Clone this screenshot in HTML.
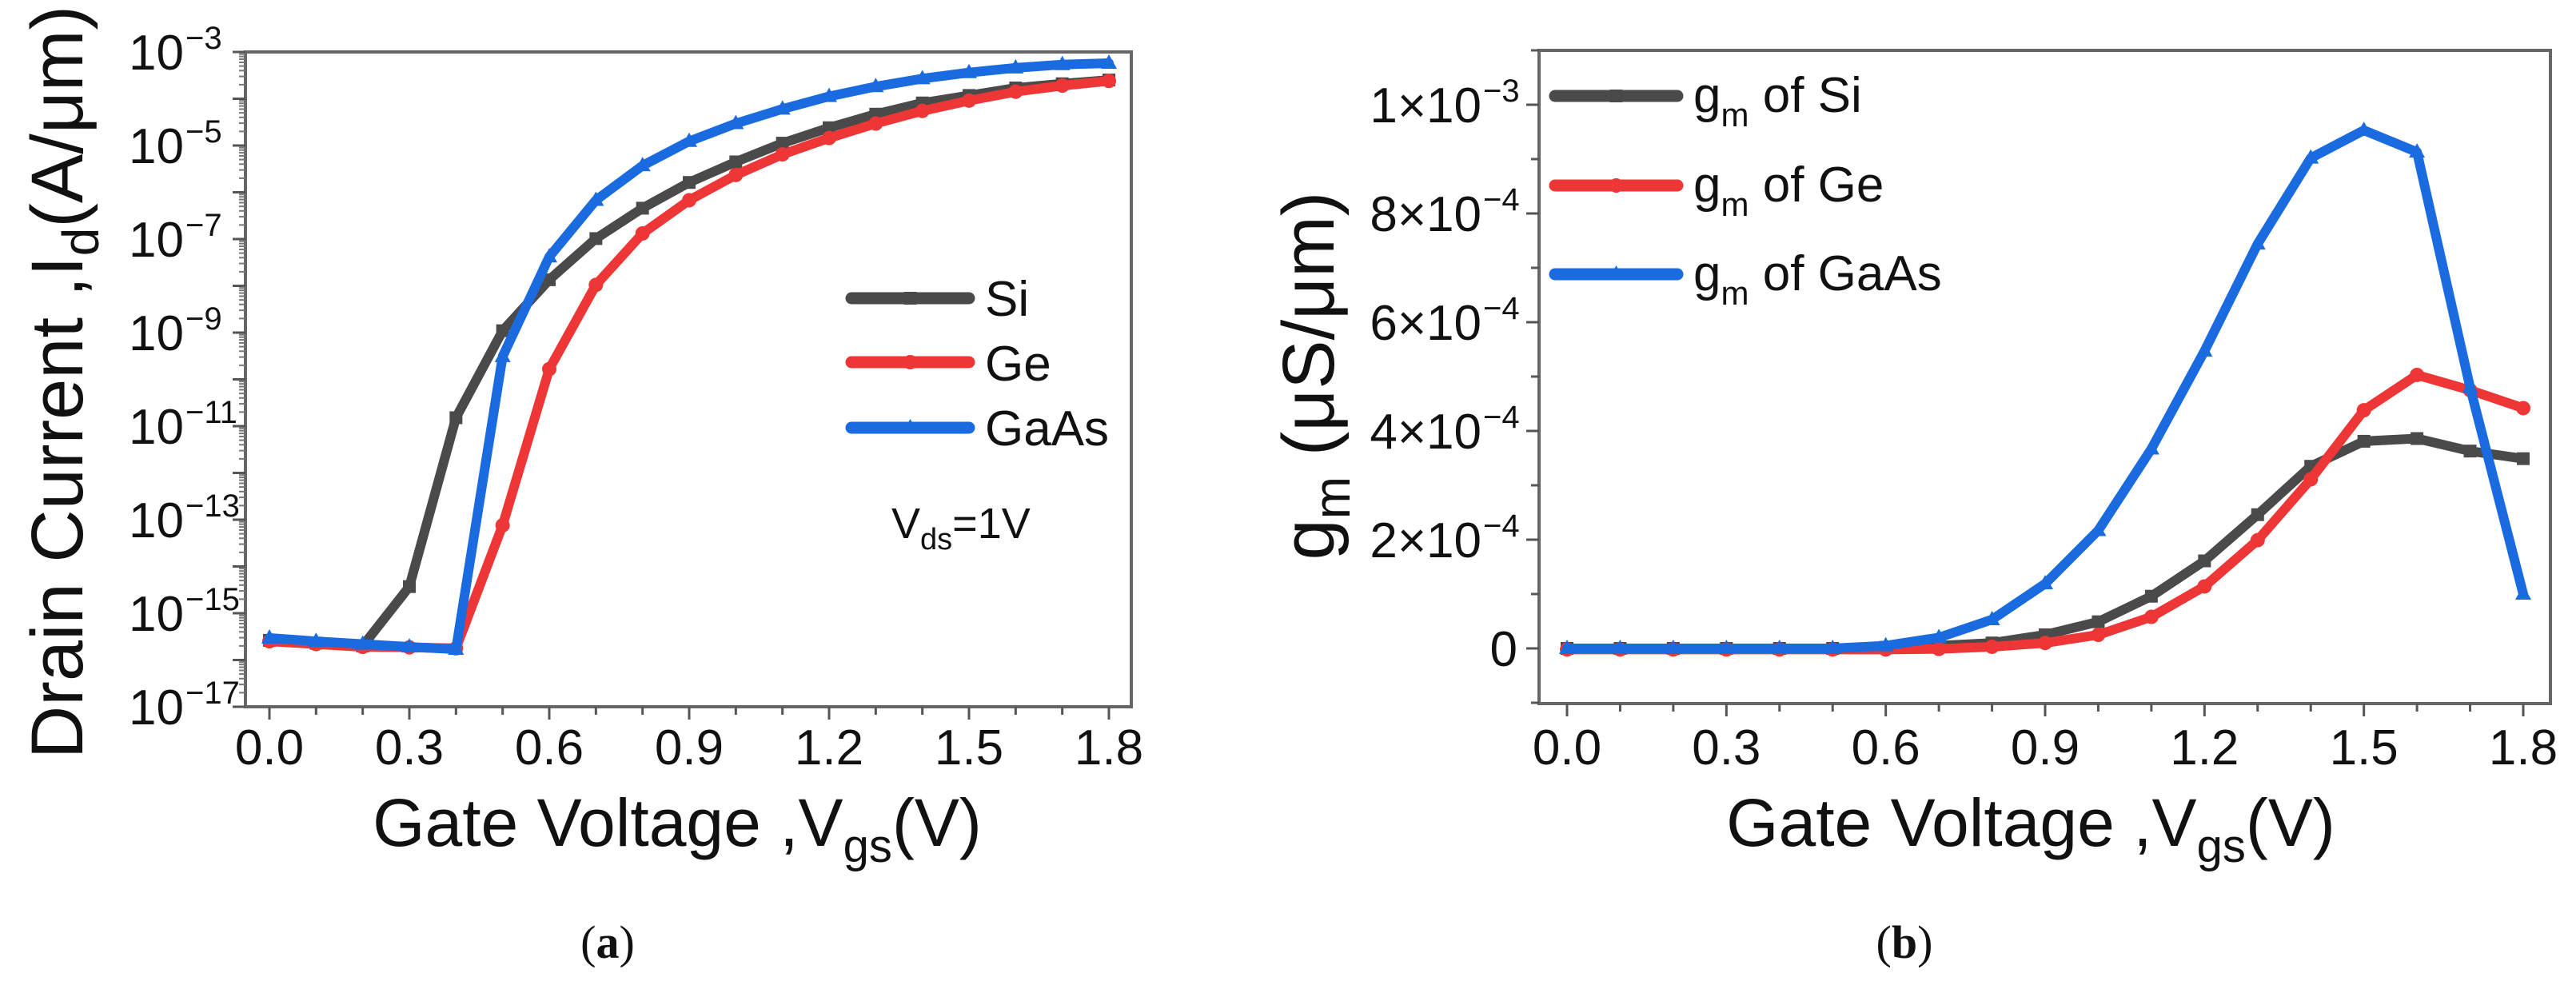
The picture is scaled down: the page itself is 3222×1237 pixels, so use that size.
<!DOCTYPE html>
<html><head><meta charset="utf-8">
<style>
html,body{margin:0;padding:0;background:#fff;}
svg{display:block;font-family:"Liberation Sans",sans-serif;}
</style></head>
<body>
<svg id="fig" width="3222" height="1237" viewBox="0 0 3222 1237" xmlns="http://www.w3.org/2000/svg">
<g id="pa"></g>
<g id="pb"></g>
</svg>
<script>
// ---- data ----
const vgs = [0,0.1,0.2,0.3,0.4,0.5,0.6,0.7,0.8,0.9,1.0,1.1,1.2,1.3,1.4,1.5,1.6,1.7,1.8];
// log10 of Id (A/um)
const idSi   = [-15.58,-15.64,-15.70,-14.43,-10.82,-8.96,-7.87,-6.99,-6.34,-5.79,-5.35,-4.95,-4.62,-4.33,-4.09,-3.93,-3.77,-3.68,-3.60];
const idGe   = [-15.60,-15.66,-15.72,-15.73,-15.75,-13.12,-9.78,-7.98,-6.88,-6.17,-5.63,-5.19,-4.84,-4.53,-4.26,-4.04,-3.85,-3.72,-3.62];
const idGaAs = [-15.53,-15.60,-15.66,-15.72,-15.77,-9.51,-7.38,-6.17,-5.43,-4.91,-4.53,-4.22,-3.95,-3.74,-3.57,-3.44,-3.34,-3.27,-3.24];
// gm in units of 1e-4 uS/um
const gmSi   = [0,0,0,0,0,0,0.02,0.05,0.1,0.25,0.49,0.96,1.61,2.46,3.35,3.81,3.86,3.63,3.49];
const gmGe   = [-0.02,-0.02,-0.02,-0.02,-0.02,-0.02,-0.02,-0.01,0.03,0.1,0.25,0.58,1.14,1.99,3.11,4.38,5.03,4.75,4.42];
const gmGaAs = [0,0,0,0,0,0,0.05,0.2,0.53,1.19,2.17,3.67,5.47,7.44,9.02,9.53,9.13,4.8,1.0];
const xTicks = [0,0.3,0.6,0.9,1.2,1.5,1.8];
const xTickLabels = ["0.0","0.3","0.6","0.9","1.2","1.5","1.8"];
const aYTicks = [-3,-5,-7,-9,-11,-13,-15,-17];
const bYTicks = [0,2,4,6,8,10];
const bYTickLabels = ["0","2×10","4×10","6×10","8×10","1×10"];
const bYTickExp = ["","−4","−4","−4","−4","−3"];

const NS="http://www.w3.org/2000/svg";
const C={si:"#4a4a4a",ge:"#ee3636",gaas:"#1a6be0"};
function el(parent,tag,attrs,text){
  const e=document.createElementNS(NS,tag);
  for(const k in attrs)e.setAttribute(k,attrs[k]);
  if(text!==undefined)e.textContent=text;
  parent.appendChild(e);return e;
}
const ax = v => 337 + v*(1387-337)/1.8;
const ay = lg => 65 + (-3-lg)*(884-65)/14;
const bx = v => 1960 + v*(3156-1960)/1.8;
const by = g => 811 - g*68;

function marker(g,type,x,y,col){
  let m;
  if(type==='sq'){m=el(g,'rect',{x:x-8,y:y-8,width:16,height:16,fill:col});}
  else if(type==='ci'){m=el(g,'circle',{cx:x,cy:y,r:9,fill:col});}
  else {m=el(g,'polygon',{points:`${x},${y-11} ${x+10},${y+7} ${x-10},${y+7}`,fill:col});}
  
  
}
function series(g,xs,ys,fx,fy,col,type,name){
  const s=el(g,'g',{});
  
  
  const pts=xs.map((v,i)=>fx(v)+','+fy(ys[i])).join(' ');
  const l=el(s,'polyline',{points:pts,fill:'none',stroke:col,'stroke-width':12,'stroke-linejoin':'round','stroke-linecap':'round'});
  
  
  xs.forEach((v,i)=>marker(s,type,fx(v),fy(ys[i]),col));
}
function legendEntry(g,x1,x2,y,col,type,name){
  const e=el(g,'g',{});
  
  
  el(e,'line',{x1:x1,y1:y,x2:x2,y2:y,stroke:col,'stroke-width':15,'stroke-linecap':'round'});
  marker(e,type,(x1+x2)/2,y,col);
  return e;
}

// ===== Panel A =====
const pa=document.getElementById('pa');
el(pa,'rect',{x:307,y:65,width:1108,height:819,fill:'none',stroke:'#666','stroke-width':4});
for(let i=0;i<=18;i++){
  const x=ax(i/10);const major=i%3===0;
  el(pa,'line',{x1:x,y1:884,x2:x,y2:884+(major?16:10),stroke:'#555','stroke-width':3});
}
xTicks.forEach((v,i)=>{
  const t=el(pa,'text',{x:ax(v),y:956,'font-size':62,'text-anchor':'middle',fill:'#111'},xTickLabels[i]);
  
  
});
for(let d=-17;d<=-3;d++){
  const y=ay(d);
  el(pa,'line',{x1:307,y1:y,x2:291,y2:y,stroke:'#555','stroke-width':3});
  if(d<-3)for(let k=2;k<=9;k++){const yy=ay(d+Math.log10(k));el(pa,'line',{x1:307,y1:yy,x2:299,y2:yy,stroke:'#777','stroke-width':2});}
}
aYTicks.forEach(d=>{
  const t=el(pa,'text',{x:230,y:ay(d)+22,'font-size':62,'text-anchor':'end',fill:'#111'},'10');
  
  
  const s=el(pa,'text',{x:232,y:ay(d)-4,'font-size':40,'text-anchor':'start',fill:'#111'},'−'+(-d));
  
  
});
series(pa,vgs,idSi,ax,ay,C.si,'sq','series-si');
series(pa,vgs,idGe,ax,ay,C.ge,'ci','series-ge');
series(pa,vgs,idGaAs,ax,ay,C.gaas,'tr','series-gaas');
const la=el(pa,'g',{});


legendEntry(la,1065,1212,373,C.si,'sq','legend-entry-si');
legendEntry(la,1065,1212,453,C.ge,'ci','legend-entry-ge');
legendEntry(la,1065,1212,535,C.gaas,'tr','legend-entry-gaas');
el(la,'text',{x:1232,y:395,'font-size':62,fill:'#111'},'Si');
el(la,'text',{x:1232,y:476,'font-size':62,fill:'#111'},'Ge');
el(la,'text',{x:1232,y:557,'font-size':62,fill:'#111'},'GaAs');
const vds=el(pa,'text',{x:1115,y:673,'font-size':54,fill:'#111'});


vds.innerHTML='V<tspan font-size="38" dy="14">ds</tspan><tspan dy="-14">=1V</tspan>';
const axt=el(pa,'text',{x:847,y:1058,'font-size':84,'text-anchor':'middle',fill:'#111'});


axt.innerHTML='Gate Voltage ,V<tspan font-size="58" dy="20">gs</tspan><tspan dy="-20">(V)</tspan>';
const ayt=el(pa,'text',{x:0,y:0,'font-size':92,'text-anchor':'middle',fill:'#111',transform:'translate(103,478) rotate(-90)'});


ayt.innerHTML='Drain Current ,I<tspan font-size="64" dy="20">d</tspan><tspan dy="-20">(A/μm)</tspan>';
const capA=el(pa,'text',{x:760,y:1198,'font-size':58,'text-anchor':'middle',fill:'#111','font-family':'Liberation Serif, serif'});


capA.innerHTML='(<tspan font-weight="bold">a</tspan>)';

// ===== Panel B =====
const pb=document.getElementById('pb');
el(pb,'rect',{x:1925,y:63,width:1265,height:817,fill:'none',stroke:'#666','stroke-width':4});
for(let i=0;i<=18;i++){
  const x=bx(i/10);const major=i%3===0;
  el(pb,'line',{x1:x,y1:880,x2:x,y2:880+(major?16:10),stroke:'#555','stroke-width':3});
}
xTicks.forEach((v,i)=>{
  const t=el(pb,'text',{x:bx(v),y:956,'font-size':62,'text-anchor':'middle',fill:'#111'},xTickLabels[i]);
  
  
});
for(let g=-1;g<=11;g++){
  const y=by(g);
  el(pb,'line',{x1:1925,y1:y,x2:g%2===0?1909:1915,y2:y,stroke:'#555','stroke-width':3});
}
bYTicks.forEach((g,i)=>{
  const hasExp=bYTickExp[i]!=='';
  const t=el(pb,'text',{x:hasExp?1853:1898,y:by(g)+22,'font-size':62,'text-anchor':'end',fill:'#111'},bYTickLabels[i]);
  
  
  if(hasExp){
    const s=el(pb,'text',{x:1855,y:by(g)-4,'font-size':40,fill:'#111'},bYTickExp[i]);
    
    
  }
});
series(pb,vgs,gmSi,bx,by,C.si,'sq','series-gm-si');
series(pb,vgs,gmGe,bx,by,C.ge,'ci','series-gm-ge');
series(pb,vgs,gmGaAs,bx,by,C.gaas,'tr','series-gm-gaas');
const lb=el(pb,'g',{});


legendEntry(lb,1945,2098,120,C.si,'sq','legend-entry-gm-si');
legendEntry(lb,1945,2098,232,C.ge,'ci','legend-entry-gm-ge');
legendEntry(lb,1945,2098,343,C.gaas,'tr','legend-entry-gm-gaas');
[['Si',120],['Ge',232],['GaAs',343]].forEach(([n,y])=>{
  const t=el(lb,'text',{x:2118,y:y+20,'font-size':62,fill:'#111'});
  t.innerHTML='g<tspan font-size="42" dy="18">m</tspan><tspan dy="-18"> of '+n+'</tspan>';
});
const bxt=el(pb,'text',{x:2540,y:1058,'font-size':84,'text-anchor':'middle',fill:'#111'});


bxt.innerHTML='Gate Voltage ,V<tspan font-size="58" dy="20">gs</tspan><tspan dy="-20">(V)</tspan>';
const byt=el(pb,'text',{x:0,y:0,'font-size':92,'text-anchor':'middle',fill:'#111',transform:'translate(1668,470) rotate(-90)'});


byt.innerHTML='g<tspan font-size="64" dy="20">m</tspan><tspan dy="-20"> (μS/μm)</tspan>';
const capB=el(pb,'text',{x:2382,y:1198,'font-size':58,'text-anchor':'middle',fill:'#111','font-family':'Liberation Serif, serif'});


capB.innerHTML='(<tspan font-weight="bold">b</tspan>)';
</script>
</body></html>
